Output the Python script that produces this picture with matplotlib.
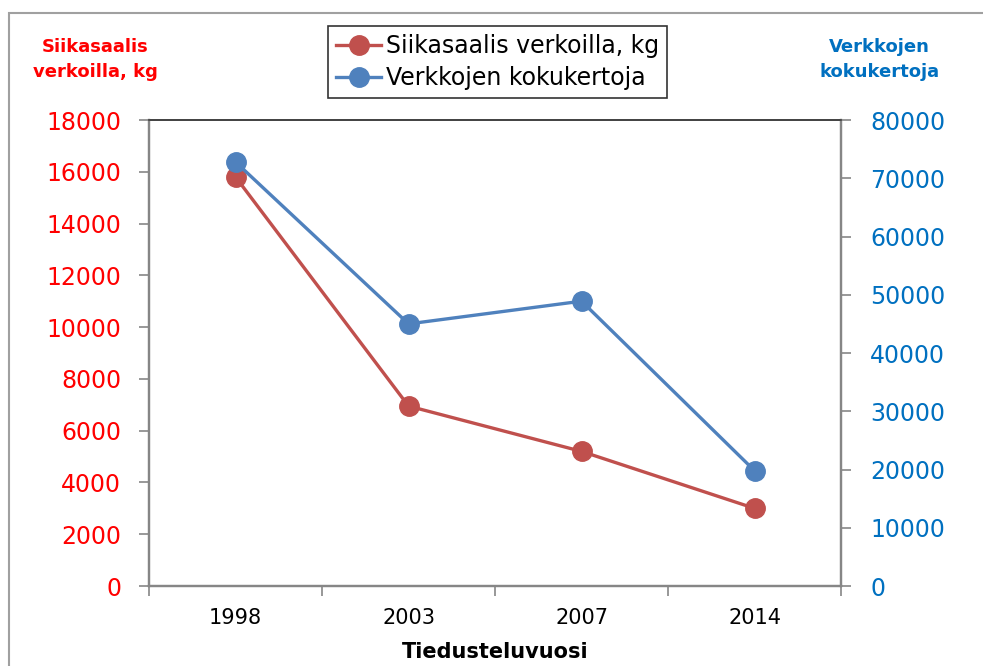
import matplotlib.pyplot as plt
from matplotlib.patches import Rectangle

years = ['1998', '2003', '2007', '2014']
saalis_kg = [15800, 6950, 5200, 3000]
kokukerrat = [72800, 45000, 48900, 19800]

red_series = '#C0504D'
blue_series = '#4F81BD'
gray = '#868686'

plt.rcParams['font.family'] = ['DejaVu Sans']

fig = plt.figure(figsize=(9.83, 6.66), dpi=100)
ax = fig.add_axes([0.1516, 0.1201, 0.7040, 0.6997])
ax2 = ax.twinx()

x = range(len(years))
l1, = ax.plot(x, saalis_kg, color=red_series, lw=2.4, marker='o', ms=14,
              label='Siikasaalis verkoilla, kg', zorder=3)
l2, = ax2.plot(x, kokukerrat, color=blue_series, lw=2.4, marker='o', ms=14,
               label='Verkkojen kokukertoja', zorder=3)

ax.set_xlim(-0.5, 3.5)
ax.set_ylim(0, 18000)
ax2.set_ylim(0, 80000)
ax.set_yticks(range(0, 18001, 2000))
ax2.set_yticks(range(0, 80001, 10000))

# category labels centred, ticks on the boundaries
ax.set_xticks([-0.5, 0.5, 1.5, 2.5, 3.5])
ax.set_xticklabels([])
ax.set_xticks(list(x), minor=True)
ax.set_xticklabels(years, minor=True, fontsize=15)
ax.tick_params(axis='x', which='major', length=7, width=1.2, color=gray, direction='out')
ax.tick_params(axis='x', which='minor', length=0, pad=16)

ax.tick_params(axis='y', length=7, width=1.2, color=gray, labelcolor='#FF0000',
               labelsize=17, pad=13)
ax2.tick_params(axis='y', length=7, width=1.2, color=gray, labelcolor='#0070C0',
                labelsize=17, pad=14)

for a in (ax, ax2):
    for side in ('left', 'right', 'bottom'):
        a.spines[side].set_color(gray)
        a.spines[side].set_linewidth(1.6)
    a.spines['top'].set_color('#404040')
    a.spines['top'].set_linewidth(1.2)

ax.set_xlabel('Tiedusteluvuosi', fontsize=15, fontweight='bold', labelpad=10)

fig.text(0.097, 0.91, 'Siikasaalis\nverkoilla, kg', color='#FF0000', fontsize=13,
         fontweight='bold', ha='center', va='center', linespacing=1.5)
fig.text(0.895, 0.91, 'Verkkojen\nkokukertoja', color='#0070C0', fontsize=13,
         fontweight='bold', ha='center', va='center', linespacing=1.5)

leg = fig.legend(handles=[l1, l2], loc='center', bbox_to_anchor=(0.5061, 0.9069),
                 fontsize=17, frameon=True, fancybox=False, handlelength=1.9,
                 handletextpad=0.2, borderpad=0.35, labelspacing=0.35)
leg.get_frame().set_edgecolor('black')
leg.get_frame().set_linewidth(1.2)

# chart area border
fig.patches.append(Rectangle((0.0092, -0.2), 1.2, 0.9805 + 0.2, transform=fig.transFigure,
                             fill=False, edgecolor='#A0A0A0', lw=1.5, zorder=0))

fig.savefig('out.png', dpi=100)
